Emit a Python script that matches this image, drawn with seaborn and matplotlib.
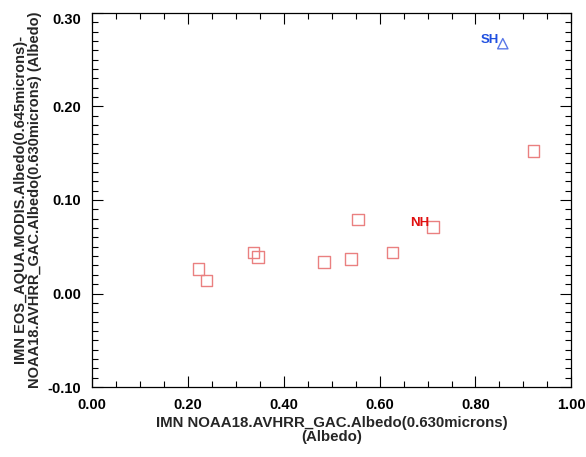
import matplotlib
matplotlib.use("Agg")
import matplotlib.pyplot as plt
from matplotlib.ticker import MultipleLocator, FormatStrFormatter
import seaborn as sns
import pandas as pd

# Data
nh_x = [0.222, 0.239, 0.337, 0.346, 0.484, 0.540, 0.555, 0.627, 0.712, 0.921]
nh_y = [0.026, 0.014, 0.044, 0.039, 0.034, 0.037, 0.079, 0.044, 0.071, 0.152]
sh_x = [0.857]
sh_y = [0.267]
x_ticks = [0.0, 0.2, 0.4, 0.6, 0.8, 1.0]
y_ticks = [-0.1, 0.0, 0.1, 0.2, 0.3]

sns.set_style("white")
plt.rcParams['font.family'] = ['Liberation Sans', 'DejaVu Sans']

fig = plt.figure(figsize=(5.86, 4.57), dpi=100)
ax = fig.add_axes([0.157, 0.153, 0.818, 0.819])

df_nh = pd.DataFrame({"x": nh_x, "y": nh_y})
df_sh = pd.DataFrame({"x": sh_x, "y": sh_y})

sns.scatterplot(data=df_nh, x="x", y="y", marker="s", s=70,
                facecolor="none", edgecolor="#ea8080", linewidth=1.0, ax=ax)
sns.scatterplot(data=df_sh, x="x", y="y", marker="^", s=55,
                facecolor="none", edgecolor="#5a78e8", linewidth=1.0, ax=ax)

# labels for the last NH point and SH point
ax.annotate("NH", (nh_x[8], nh_y[8]), xytext=(-3, 3), textcoords="offset points",
            ha="right", va="center", color="#e01010", fontsize=9.5, fontweight="bold")
ax.annotate("SH", (sh_x[0], sh_y[0]), xytext=(-3, 3), textcoords="offset points",
            ha="right", va="center", color="#2050e0", fontsize=9.5, fontweight="bold")

ax.set_xlim(x_ticks[0], x_ticks[-1])
ax.set_ylim(y_ticks[0], y_ticks[-1])
ax.set_xticks(x_ticks)
ax.set_yticks(y_ticks)
ax.xaxis.set_minor_locator(MultipleLocator(0.05))
ax.yaxis.set_minor_locator(MultipleLocator(0.01))
ax.xaxis.set_major_formatter(FormatStrFormatter("%.2f"))
ax.yaxis.set_major_formatter(FormatStrFormatter("%.2f"))

ax.tick_params(which="both", direction="in", top=True, right=True,
               bottom=True, left=True, colors="black", width=0.8)
ax.tick_params(which="major", length=8, labelsize=10.5, pad=8)
ax.tick_params(which="minor", length=4)
for lab in ax.get_xticklabels() + ax.get_yticklabels():
    lab.set_fontweight("bold")
ax.get_yticklabels()[-1].set_verticalalignment("top")

for sp in ax.spines.values():
    sp.set_visible(True)
    sp.set_color("black")
    sp.set_linewidth(0.9)

ax.set_xlabel("IMN NOAA18.AVHRR_GAC.Albedo(0.630microns)\n(Albedo)",
              fontsize=10.8, fontweight="bold", labelpad=3, linespacing=1.0)
ax.set_ylabel("IMN EOS_AQUA.MODIS.Albedo(0.645microns)-\nNOAA18.AVHRR_GAC.Albedo(0.630microns) (Albedo)",
              fontsize=10.5, fontweight="bold", labelpad=4, linespacing=1.0)

fig.savefig("out.png", dpi=100, facecolor="white")
